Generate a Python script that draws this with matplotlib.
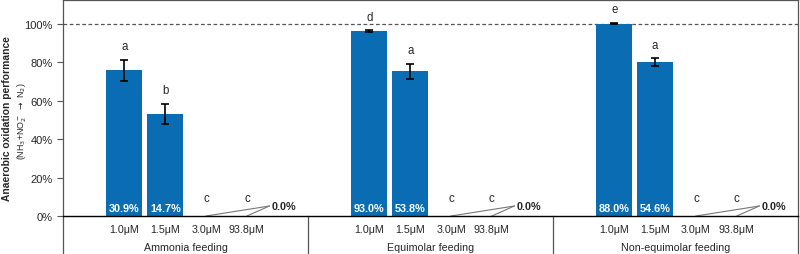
import numpy as np
import matplotlib
matplotlib.use("Agg")
import matplotlib.pyplot as plt
import matplotlib.transforms as mtransforms

plt.rcParams['font.family'] = ['Liberation Sans', 'DejaVu Sans']

groups = ["Ammonia feeding", "Equimolar feeding", "Non-equimolar feeding"]
doses = ["1.0μM", "1.5μM", "3.0μM", "93.8μM"]
# performance (%) per group, per dose
perf = [[75.8, 53.3, 0, 0],
        [96.4, 75.3, 0, 0],
        [100.2, 80.2, 0, 0]]
err = [[5.4, 5.2, 0, 0],
       [0.3, 3.9, 0, 0],
       [0.4, 2.0, 0, 0]]
letters = [["a", "b", "c", "c"],
           ["d", "a", "c", "c"],
           ["e", "a", "c", "c"]]
inbar = [["30.9%", "14.7%"],
         ["93.0%", "53.8%"],
         ["88.0%", "54.6%"]]

blue = "#0a6db3"
txt = "#262626"

fig = plt.figure(figsize=(8, 2.55), dpi=100)
ax = fig.add_axes([0.079, 0.149, 0.9185, 0.847])

ax.set_xlim(0, 18)
ax.set_ylim(0, 112.5)

trans = mtransforms.blended_transform_factory(ax.transData, ax.transAxes)
ybot = -0.149 / 0.847

xticks = []
xlabels = []
for g in range(3):
    xs = g * 6 + 1.5 + np.arange(4)
    ax.bar(xs, perf[g], width=0.88, color=blue, zorder=2)
    ax.errorbar(xs[:2], perf[g][:2], yerr=err[g][:2], fmt="none",
                ecolor="black", elinewidth=1.2, capsize=3, capthick=1.2, zorder=3)
    for i in range(4):
        top = perf[g][i] + err[g][i]
        ypos = top + 4 if i < 2 else 6.5
        ax.text(xs[i], ypos, letters[g][i], ha="center", va="bottom", fontsize=8.3, color=txt)
    for i in range(2):
        ax.text(xs[i], 1.8, inbar[g][i], ha="center", va="bottom", fontsize=7.8,
                color="white", fontweight="bold")
    # 0.0% callout
    lx = xs[3] + 0.55
    ly = 5.2
    ax.plot([xs[2], lx], [0, ly], color="#777777", lw=0.8, zorder=1)
    ax.plot([xs[3], lx], [0, ly], color="#777777", lw=0.8, zorder=1)
    ax.text(lx + 0.05, ly, "0.0%", ha="left", va="center", fontsize=7.8,
            fontweight="bold", color=txt)
    xticks.extend(xs)
    xlabels.extend(doses)
    ax.text(g * 6 + 3, -0.143, groups[g], transform=trans, ha="center", va="center",
            fontsize=7.7, color=txt, clip_on=False)

ax.set_xticks(xticks)
ax.set_xticklabels(xlabels, fontsize=7.7, color=txt)
ax.tick_params(axis="x", length=0, pad=6)

ax.set_yticks(np.arange(0, 101, 20))
ax.set_yticklabels([f"{v}%" for v in range(0, 101, 20)], fontsize=8, color=txt)
ax.tick_params(axis="y", length=4, width=0.8, color="#555555", direction="out")

ax.axhline(100, color="#555555", lw=0.9, ls=(0, (3, 2)), zorder=1)

for s in ["top", "right", "left"]:
    ax.spines[s].set_color("#555555")
    ax.spines[s].set_linewidth(0.9)
ax.spines["bottom"].set_color("black")
ax.spines["bottom"].set_linewidth(1.0)

# category separators below the axis
for xv in [0, 6, 12, 18]:
    ax.plot([xv, xv], [0, ybot], transform=trans, color="#555555", lw=0.9, clip_on=False)

fig.text(0.0085, 0.537, "Anaerobic oxidation performance", rotation=90, ha="center",
         va="center", fontsize=7.4, fontweight="bold", color=txt)
fig.text(0.028, 0.524, r"(NH$_3$+NO$_2^-$ $\rightarrow$ N$_2$)", rotation=90, ha="center",
         va="center", fontsize=6.4, color=txt)

fig.savefig("out.png", dpi=100)
